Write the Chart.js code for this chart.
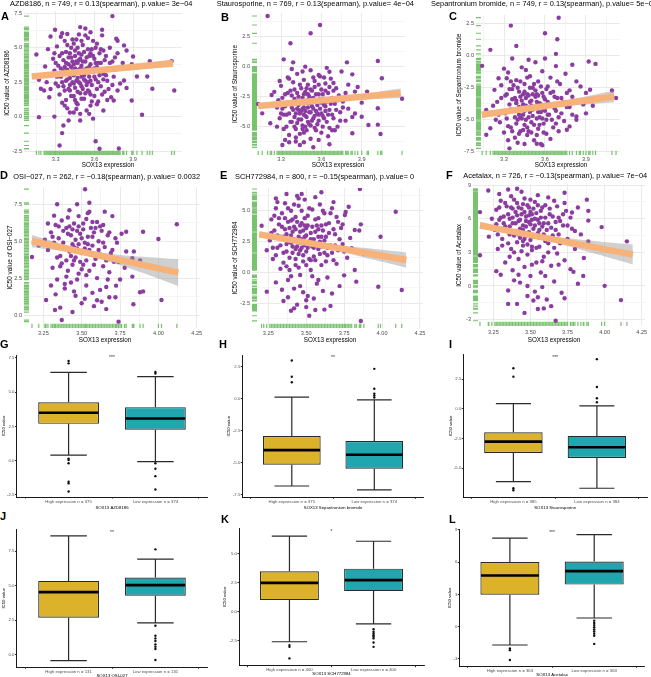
<!DOCTYPE html>
<html>
<head>
<meta charset="utf-8">
<script src="https://cdn.jsdelivr.net/npm/chart.js@4.4.1/dist/chart.umd.min.js"></script>
<style>
  html, body { margin: 0; padding: 0; background: #fff; overflow: hidden; }
  #fig { position: relative; width: 651px; height: 677px; }
  .p { position: absolute; }
  .p canvas { display: block; }
  .tag { position: absolute; z-index: 5; font: bold 11px "Liberation Sans", Arial, sans-serif; line-height: 11px; color: #000; }
</style>
</head>
<body>
<div id="fig">
  <div class="tag" style="left:1px;top:11px">A</div>
  <div class="tag" style="left:221px;top:12px">B</div>
  <div class="tag" style="left:449px;top:11px">C</div>
  <div class="tag" style="left:0px;top:170px">D</div>
  <div class="tag" style="left:220px;top:170px">E</div>
  <div class="tag" style="left:446px;top:170px">F</div>
  <div class="tag" style="left:0px;top:339px">G</div>
  <div class="tag" style="left:219px;top:339px">H</div>
  <div class="tag" style="left:449px;top:339px">I</div>
  <div class="tag" style="left:0px;top:511px">J</div>
  <div class="tag" style="left:221px;top:514px">K</div>
  <div class="tag" style="left:449px;top:514px">L</div>
</div>
<script>
// ---------- scatter data: [SOX13 expression, IC50] ----------
const azdPts = [
  [3.74,7.3],[3.49,6.5],[3.295,6.31],[3.15,4.51],[3.17,2.67],[3.17,-0.04],[3.29,0.0],[3.36,-0.65],[3.35,-1.2],[3.33,-2.1],
  [3.61,-1.79],[3.64,-2.34],[3.79,-2.32],[3.97,0.13],[4.22,1.9],[4.05,2.02],[4.03,4.03],[4.2,4.03],[3.9,4.37],[3.89,3.8],
  [3.93,2.91],[4.01,2.91],[3.83,5.17],[3.77,5.65],[3.21,1.9],[3.218,3.64],[3.26,5.82],[3.35,6.06],[3.57,6.13],[3.66,6.31],
  [3.48,5.97],[3.78,5.51],[3.85,4.8],[3.83,2.62],[3.85,2.08],[3.78,1.9],[3.89,1.17],[3.75,1.17],[3.67,0.44],[3.54,0.44],
  [3.49,0.2],[3.41,0.3],[3.40,-0.28],[3.49,-0.28],[3.59,-0.15],[3.46,0.56],[3.37,0.8],[3.25,1.41],[3.185,2.02],[3.23,2.5],
  [3.29,3.33],[3.27,3.1],[3.28,4.2],[3.3,2.4],[3.31,5.1],[3.32,3.7],[3.33,1.6],[3.34,2.9],[3.35,4.6],[3.36,3.3],
  [3.36,2.2],[3.37,5.5],[3.38,3.9],[3.38,1.2],[3.39,2.7],[3.4,4.3],[3.4,3.1],[3.41,1.9],[3.42,5.0],[3.42,3.6],
  [3.43,2.5],[3.43,4.0],[3.44,1.5],[3.44,3.0],[3.45,4.8],[3.45,2.1],[3.46,3.4],[3.46,5.6],[3.47,2.8],[3.47,0.9],
  [3.48,4.1],[3.48,3.2],[3.49,1.7],[3.49,2.4],[3.5,4.5],[3.5,3.7],[3.51,5.2],[3.51,2.0],[3.52,3.0],[3.52,1.3],
  [3.53,4.0],[3.53,2.6],[3.54,3.5],[3.55,5.7],[3.55,1.9],[3.56,4.4],[3.56,2.9],[3.57,3.8],[3.57,0.8],[3.58,2.3],
  [3.58,4.9],[3.59,3.3],[3.6,1.5],[3.6,4.2],[3.61,2.7],[3.62,5.3],[3.62,3.6],[3.63,1.1],[3.64,4.6],[3.65,2.2],
  [3.65,3.9],[3.66,5.9],[3.67,3.1],[3.68,1.8],[3.69,4.4],[3.7,2.6],[3.71,3.5],[3.72,5.0],[3.73,1.4],[3.74,4.0],
  [3.75,2.9],[3.76,3.4],[3.78,4.6],[3.8,2.4],[3.82,3.9],[3.3,3.9],[3.34,5.8],[3.39,0.6],[3.41,2.3],[3.44,5.3],
  [3.46,1.0],[3.5,2.9],[3.53,5.9],[3.57,1.6],[3.59,5.5],[3.63,2.5],[3.67,4.8],[3.7,1.2],[3.35,1.0],[3.26,2.0],
  [3.24,4.9],[3.43,3.3],[3.47,3.9],[3.51,3.4],[3.55,2.5],[3.61,3.9],
  [3.31,2.9],[3.33,4.4],[3.34,3.5],[3.35,2.5],[3.36,4.1],[3.37,1.9],[3.37,3.6],[3.38,4.7],[3.38,2.6],[3.39,3.4],
  [3.39,5.2],[3.4,2.0],[3.4,3.8],[3.41,4.6],[3.41,2.8],[3.42,1.5],[3.42,4.3],[3.43,3.2],[3.43,5.6],[3.44,2.4],
  [3.44,3.8],[3.45,1.2],[3.45,3.5],[3.45,4.4],[3.46,2.6],[3.46,4.0],[3.47,3.3],[3.47,5.0],[3.47,1.8],[3.48,2.5],
  [3.48,4.6],[3.49,3.5],[3.49,4.2],[3.5,2.2],[3.5,5.5],[3.5,1.3],[3.51,3.1],[3.51,4.0],[3.52,2.7],[3.52,4.7],
  [3.53,3.4],[3.53,1.7],[3.54,2.3],[3.54,4.3],[3.55,3.2],[3.55,4.9],[3.56,1.8],[3.56,3.6],[3.57,2.6],[3.57,4.6],
  [3.58,3.4],[3.58,1.1],[3.59,4.4],[3.6,2.9],[3.6,3.5],[3.61,5.0],[3.62,2.0],[3.63,3.9],[3.64,3.0],[3.65,4.9],
  [3.66,1.6],[3.67,2.7],[3.68,4.1],[3.69,3.0],[3.71,2.0],[3.72,3.9],[3.74,2.3],[3.76,4.3],[3.39,6.0],[3.53,6.4],
  [3.44,0.3],[3.56,0.2],[3.62,0.9],[3.32,2.2],[3.29,4.6]
];
const stauPts = [
  [3.2,4.22],[3.59,3.47],[3.52,2.78],[3.37,1.95],[3.32,0.61],[4.02,0.47],[4.05,-0.97],[4.2,-2.67],[4.02,-3.47],[3.95,-4.86],
  [4.02,-4.83],[4.04,-5.61],[3.31,-6.53],[3.44,-6.53],[3.41,-6.24],[3.54,-6.72],[3.66,-6.47],[3.22,-4.72],[3.16,-3.89],[3.13,-3.11],
  [3.23,-2.36],[3.83,-5.55],[3.9,-4.17],[3.94,-2.08],[3.85,-2.08],[3.8,-1.5],[3.66,-0.42],[3.69,-1.36],[3.59,-0.81],[3.39,0.36],
  [3.48,0.0],[3.79,0.36],[3.83,-0.64],
  [3.28,-2.8],[3.29,-4.3],[3.3,-1.6],[3.31,-3.5],[3.32,-5.2],[3.33,-2.3],[3.34,-4.0],[3.35,-0.9],[3.35,-3.0],[3.36,-5.7],
  [3.37,-2.0],[3.37,-4.6],[3.38,-3.4],[3.39,-1.3],[3.4,-2.7],[3.4,-5.0],[3.41,-3.9],[3.42,-0.6],[3.42,-2.2],[3.43,-4.4],
  [3.43,-3.2],[3.44,-5.6],[3.45,-1.8],[3.45,-3.7],[3.46,-2.6],[3.46,-4.9],[3.47,-1.1],[3.47,-3.4],[3.48,-4.1],[3.48,-2.1],
  [3.49,-5.3],[3.49,-3.0],[3.5,-1.5],[3.5,-4.6],[3.51,-2.5],[3.51,-3.8],[3.52,-6.0],[3.52,-0.3],[3.53,-3.3],[3.53,-2.0],
  [3.54,-4.3],[3.55,-5.1],[3.55,-1.2],[3.56,-2.9],[3.56,-3.7],[3.57,-4.8],[3.58,-2.3],[3.58,-0.7],[3.59,-3.5],[3.6,-5.5],
  [3.6,-1.9],[3.61,-4.1],[3.62,-2.7],[3.62,-3.2],[3.63,-1.4],[3.64,-4.6],[3.65,-2.2],[3.65,-5.8],[3.66,-3.6],[3.67,-1.0],
  [3.68,-2.6],[3.69,-4.3],[3.7,-3.1],[3.71,-1.8],[3.72,-5.0],[3.73,-2.4],[3.74,-3.8],[3.75,-0.4],[3.76,-2.9],[3.78,-4.5],
  [3.8,-3.5],[3.82,-2.6],[3.85,-3.9],[3.87,-1.7],[3.9,-3.0],[3.33,-6.1],[3.38,-0.2],[3.41,-5.9],[3.44,-2.9],[3.47,-5.5],
  [3.5,-2.8],[3.54,-0.9],[3.57,-3.9],[3.6,-3.0],[3.64,-0.1],[3.68,-5.3],[3.3,-3.9],[3.25,-2.1],[3.27,-5.0],[3.36,-1.0],
  [3.52,-4.9],[3.46,-0.4],[3.43,-3.6],[3.48,-3.7],[3.53,-2.7],[3.58,-4.0],[3.63,-3.3],
  [3.31,-2.6],[3.32,-4.0],[3.33,-3.3],[3.34,-5.0],[3.35,-2.2],[3.36,-3.9],[3.37,-3.1],[3.38,-4.6],[3.38,-2.4],[3.39,-3.6],
  [3.4,-1.9],[3.4,-4.2],[3.41,-2.9],[3.41,-5.2],[3.42,-3.5],[3.42,-4.7],[3.43,-2.5],[3.44,-3.9],[3.44,-1.5],[3.45,-4.4],
  [3.45,-2.9],[3.46,-3.5],[3.46,-5.2],[3.47,-2.3],[3.47,-4.0],[3.48,-3.0],[3.48,-5.0],[3.49,-1.8],[3.49,-4.2],[3.5,-3.4],
  [3.5,-2.3],[3.51,-4.8],[3.51,-3.0],[3.52,-1.9],[3.52,-3.8],[3.53,-4.5],[3.54,-2.6],[3.54,-3.5],[3.55,-4.1],[3.55,-1.7],
  [3.56,-5.3],[3.56,-2.3],[3.57,-3.2],[3.58,-4.5],[3.58,-1.5],[3.59,-2.7],[3.6,-3.9],[3.61,-2.3],[3.61,-5.0],[3.62,-4.3],
  [3.63,-2.0],[3.63,-3.7],[3.64,-2.9],[3.65,-4.0],[3.66,-1.7],[3.66,-5.1],[3.67,-3.1],[3.68,-4.0],[3.69,-2.0],[3.7,-5.3],
  [3.71,-3.6],[3.72,-2.8],[3.74,-4.5],[3.76,-3.4],[3.78,-2.2],[3.36,-6.3],[3.47,-6.3],[3.58,-6.1],[3.29,-1.2],[3.27,-3.4],
  [3.83,-4.2],[3.62,-0.9]
];
const sepPts = [
  [3.70,2.99],[3.35,2.37],[3.6,1.77],[3.69,1.3],[3.2,0.47],[3.39,0.78],[3.14,-0.78],[3.68,0.16],[3.92,-0.44],[3.97,-0.63],
  [3.8,-0.7],[4.12,-3.3],[4.09,-2.71],[3.95,-3.91],[3.83,-4.74],[3.78,-5.52],[3.76,-5.78],[3.54,-6.88],[3.34,-7.24],[3.17,-6.17],
  [3.2,-5.66],[3.17,-4.24],[3.23,-2.66],[3.26,-1.75],[3.32,-1.75],[3.83,-2.0],[3.9,-2.9],[3.93,-2.65],
  [3.25,-3.6],[3.27,-5.2],[3.28,-2.3],[3.29,-4.4],[3.3,-6.0],[3.31,-3.1],[3.32,-4.9],[3.33,-1.3],[3.34,-3.8],[3.35,-5.6],
  [3.36,-2.6],[3.37,-4.3],[3.38,-6.4],[3.38,-3.3],[3.39,-1.9],[3.4,-5.0],[3.41,-4.0],[3.41,-2.8],[3.42,-5.9],[3.43,-3.5],
  [3.43,-0.9],[3.44,-4.6],[3.45,-2.2],[3.45,-5.4],[3.46,-3.9],[3.47,-3.0],[3.47,-6.2],[3.48,-4.8],[3.49,-1.6],[3.49,-3.6],
  [3.5,-5.2],[3.51,-2.5],[3.51,-4.2],[3.52,-6.6],[3.53,-3.2],[3.53,-0.5],[3.54,-4.9],[3.55,-2.0],[3.55,-5.7],[3.56,-3.7],
  [3.57,-4.4],[3.58,-1.2],[3.58,-2.9],[3.59,-5.3],[3.6,-3.4],[3.61,-6.1],[3.62,-2.4],[3.62,-4.6],[3.63,-3.9],[3.64,-1.7],
  [3.65,-5.0],[3.66,-2.8],[3.67,-4.1],[3.68,-0.8],[3.69,-3.3],[3.7,-5.9],[3.71,-2.2],[3.72,-4.5],[3.73,-3.6],[3.75,-1.4],
  [3.76,-2.9],[3.78,-4.0],[3.8,-3.2],[3.83,-5.0],[3.86,-2.4],[3.88,-3.8],[3.3,-1.0],[3.36,-0.2],[3.4,-6.8],[3.46,-1.1],
  [3.52,-2.2],[3.57,-6.9],[3.6,-0.2],[3.64,-6.5],[3.68,-5.3],[3.44,-3.0],[3.5,-3.9],[3.56,-4.8],[3.26,-4.6],[3.22,-3.9],
  [3.35,-2.0],[3.48,-0.3],[3.42,-4.8],[3.47,-5.6],[3.54,-3.0],[3.59,-4.2],[3.39,-3.5],
  [3.31,-4.5],[3.32,-3.0],[3.33,-5.5],[3.34,-2.6],[3.35,-4.2],[3.36,-3.4],[3.36,-5.9],[3.37,-2.3],[3.38,-4.8],[3.39,-3.7],
  [3.39,-5.3],[3.4,-2.5],[3.41,-4.6],[3.41,-6.1],[3.42,-3.2],[3.42,-2.0],[3.43,-4.9],[3.44,-3.8],[3.44,-5.8],[3.45,-2.8],
  [3.45,-4.3],[3.46,-3.3],[3.46,-5.0],[3.47,-4.0],[3.47,-1.7],[3.48,-3.1],[3.48,-5.9],[3.49,-4.4],[3.49,-2.5],[3.5,-3.5],
  [3.5,-6.0],[3.51,-4.7],[3.51,-3.0],[3.52,-5.4],[3.52,-4.0],[3.53,-2.7],[3.54,-3.6],[3.54,-6.2],[3.55,-4.4],[3.55,-3.1],
  [3.56,-5.4],[3.57,-2.4],[3.57,-3.8],[3.58,-4.9],[3.59,-3.2],[3.59,-6.0],[3.6,-4.3],[3.61,-2.6],[3.61,-5.0],[3.62,-3.6],
  [3.63,-4.6],[3.64,-2.9],[3.65,-3.9],[3.66,-5.6],[3.67,-3.2],[3.68,-4.3],[3.69,-2.0],[3.7,-4.8],[3.72,-3.3],[3.74,-5.1],
  [3.76,-4.0],[3.78,-2.7],[3.8,-4.6],[3.33,-6.6],[3.45,-6.9],[3.58,-7.0],[3.28,-3.3],[3.24,-5.0],[3.85,-3.5],[3.9,-4.5]
];
const osiPts = [
  [3.522,8.52],[3.34,7.5],[3.47,7.5],[3.55,7.0],[3.65,7.0],[3.32,6.73],[4.12,6.15],[3.176,3.93],[3.268,1.02],[3.326,0.34],
  [3.37,-0.34],[3.74,-0.45],[4.02,1.02],[3.88,1.54],[3.9,1.6],[3.83,2.6],[3.724,1.99],[3.79,5.64],[3.9,5.64],[4.0,5.15],
  [3.84,4.3],[3.79,4.3],[3.83,3.85],[3.88,3.7],[3.837,0.73],[3.68,1.2],
  [3.28,4.4],[3.3,5.6],[3.31,3.2],[3.32,4.9],[3.33,6.1],[3.34,2.4],[3.35,5.2],[3.36,4.0],[3.37,6.4],[3.37,3.5],
  [3.38,5.7],[3.39,1.8],[3.39,4.6],[3.4,5.9],[3.41,3.0],[3.41,6.6],[3.42,4.3],[3.43,5.4],[3.43,2.2],[3.44,4.8],
  [3.45,6.2],[3.45,3.7],[3.46,5.1],[3.46,1.3],[3.47,4.5],[3.48,6.0],[3.48,2.8],[3.49,5.5],[3.5,4.2],[3.5,0.8],
  [3.51,5.8],[3.51,3.4],[3.52,4.9],[3.53,6.5],[3.53,2.0],[3.54,5.3],[3.55,4.4],[3.55,3.0],[3.56,5.9],[3.57,1.5],
  [3.57,4.7],[3.58,5.6],[3.59,3.8],[3.6,6.3],[3.6,2.5],[3.61,5.0],[3.62,4.1],[3.63,0.9],[3.63,5.7],[3.64,3.3],
  [3.65,4.6],[3.66,1.9],[3.67,5.4],[3.68,2.9],[3.69,4.2],[3.7,6.7],[3.71,3.6],[3.72,1.2],[3.73,4.9],[3.75,2.4],
  [3.76,5.5],[3.78,3.2],[3.33,1.4],[3.36,0.5],[3.44,0.2],[3.52,1.1],[3.58,0.6],[3.62,1.7],[3.66,0.4],[3.47,2.4],
  [3.4,2.6],[3.55,7.6],[3.42,7.1],[3.3,2.0],[3.26,5.1],[3.22,4.7],[3.28,6.2],[3.5,3.1],[3.44,3.4],[3.59,4.0],
  [3.64,6.1],[3.54,6.9],
  [3.31,5.3],[3.33,4.6],[3.35,6.0],[3.36,3.3],[3.38,4.9],[3.4,3.7],[3.41,5.5],[3.42,6.0],[3.43,4.0],[3.44,5.8],
  [3.45,4.6],[3.46,3.9],[3.47,5.7],[3.48,4.8],[3.49,3.6],[3.5,5.2],[3.51,6.2],[3.52,4.5],[3.53,3.7],[3.54,4.8],
  [3.56,4.1],[3.57,5.3],[3.58,3.4],[3.59,5.9],[3.61,4.4],[3.62,6.0],[3.64,4.9],[3.66,3.7],[3.68,5.6],[3.7,4.4],
  [3.72,5.2],[3.74,3.6],[3.39,2.1],[3.45,1.6],[3.53,2.7],[3.6,1.0],[3.67,2.4],[3.34,3.9],[3.48,6.7],[3.57,6.3]
];
const schPts = [
  [3.854,6.76],[3.6,6.49],[4.09,4.92],[3.99,2.9],[3.206,3.79],[3.24,-1.55],[3.975,-1.15],[3.83,-0.74],[4.13,-1.42],[3.86,-3.92],
  [3.56,-3.03],[3.42,-2.9],[3.5,-2.24],[3.67,-1.7],[3.75,-0.23],[3.8,1.96],[3.82,3.44],[3.755,4.65],[3.86,3.9],[3.78,5.32],
  [3.68,5.7],[3.3,6.0],[3.37,6.35],[3.47,6.35],
  [3.26,2.6],[3.27,4.3],[3.28,1.1],[3.29,3.4],[3.3,5.2],[3.31,2.0],[3.32,3.9],[3.33,0.3],[3.33,2.9],[3.34,4.8],
  [3.35,1.6],[3.36,3.5],[3.36,5.6],[3.37,2.3],[3.38,-0.6],[3.38,4.1],[3.39,1.2],[3.4,3.0],[3.4,5.0],[3.41,2.1],
  [3.42,-1.3],[3.42,3.7],[3.43,0.6],[3.43,4.5],[3.44,2.6],[3.45,1.5],[3.45,5.4],[3.46,3.3],[3.46,-0.2],[3.47,2.0],
  [3.47,4.0],[3.48,0.9],[3.49,2.9],[3.49,5.9],[3.5,1.7],[3.5,3.6],[3.51,-1.9],[3.51,4.6],[3.52,2.4],[3.53,0.2],
  [3.53,3.2],[3.54,5.1],[3.55,1.3],[3.55,2.7],[3.56,4.3],[3.57,-0.9],[3.57,3.8],[3.58,1.9],[3.59,5.5],[3.59,2.5],
  [3.6,0.6],[3.61,3.4],[3.62,4.8],[3.62,1.6],[3.63,2.9],[3.64,-0.4],[3.65,4.0],[3.66,2.2],[3.67,5.2],[3.68,1.0],
  [3.69,3.1],[3.7,4.5],[3.71,1.8],[3.72,-1.1],[3.73,3.6],[3.74,2.3],[3.76,4.9],[3.77,1.2],[3.79,2.8],[3.82,0.2],
  [3.85,3.4],[3.88,1.5],[3.3,-0.8],[3.35,-2.3],[3.44,-2.6],[3.48,-1.6],[3.55,-2.1],[3.61,-1.5],[3.66,-2.7],[3.4,-3.1],
  [3.52,-3.5],[3.44,6.2],[3.56,6.1],[3.24,1.8],[3.22,3.0],[3.41,4.3],[3.53,1.0],[3.46,2.4],[3.58,3.5],[3.37,0.5],
  [3.43,1.9],[3.49,3.8],[3.54,2.1],[3.6,2.9],[3.64,1.4],[3.39,2.5],
  [3.27,3.2],[3.28,2.0],[3.29,4.6],[3.3,1.4],[3.31,3.0],[3.32,4.4],[3.33,2.2],[3.34,3.7],[3.35,0.8],[3.35,2.9],
  [3.36,4.4],[3.37,1.7],[3.37,3.1],[3.38,2.5],[3.38,5.2],[3.39,3.6],[3.39,0.2],[3.4,2.4],[3.4,4.2],[3.41,1.6],
  [3.41,3.3],[3.42,2.7],[3.42,5.5],[3.43,1.1],[3.43,3.5],[3.44,2.1],[3.44,4.1],[3.45,0.4],[3.45,2.9],[3.46,3.8],
  [3.46,1.8],[3.47,2.7],[3.47,5.0],[3.48,3.4],[3.48,1.4],[3.49,2.2],[3.49,4.4],[3.5,0.6],[3.5,3.0],[3.51,2.0],
  [3.51,3.8],[3.52,1.1],[3.52,5.2],[3.53,2.7],[3.54,3.7],[3.54,-0.3],[3.55,2.0],[3.56,3.3],[3.56,1.0],[3.57,2.3],
  [3.58,4.4],[3.58,2.9],[3.59,1.5],[3.6,3.8],[3.6,2.1],[3.61,5.0],[3.62,2.6],[3.63,0.9],[3.63,3.9],[3.64,2.0],
  [3.65,3.2],[3.66,4.8],[3.67,1.6],[3.68,3.5],[3.69,2.2],[3.7,0.7],[3.71,4.1],[3.72,2.7],[3.74,3.9],[3.75,1.7],
  [3.34,-1.4],[3.46,-1.1],[3.58,-0.6],[3.5,-2.8],[3.62,-3.0],[3.38,-2.0],[3.31,5.7],[3.45,6.0],[3.4,-0.3]
];
const acePts = [
  [3.216,8.52],[3.35,8.6],[3.41,8.67],[3.73,8.31],[3.16,6.59],[3.16,2.74],[3.27,1.32],[3.98,5.25],[4.15,3.98],[3.89,3.97],
  [3.856,0.9],[3.79,1.26],[4.0,0.01],[4.11,-1.26],[3.67,-3.1],[3.55,-2.06],[3.59,-2.0],[3.35,-1.6],[3.73,-1.1],[3.89,5.83],
  [3.89,6.7],[3.82,7.0],[3.88,7.7],[3.73,7.4],[3.78,6.55],
  [3.26,5.0],[3.27,6.8],[3.28,3.3],[3.29,5.9],[3.3,7.6],[3.31,4.2],[3.32,6.2],[3.33,2.1],[3.33,5.3],[3.34,7.1],
  [3.35,3.8],[3.36,6.0],[3.36,4.6],[3.37,8.0],[3.38,1.4],[3.38,5.6],[3.39,3.0],[3.4,6.6],[3.4,4.9],[3.41,7.4],
  [3.42,2.4],[3.42,5.8],[3.43,4.3],[3.43,0.3],[3.44,6.9],[3.45,3.6],[3.45,5.4],[3.46,7.8],[3.46,1.7],[3.47,6.2],
  [3.47,4.5],[3.48,2.8],[3.49,5.7],[3.49,7.0],[3.5,0.9],[3.5,4.1],[3.51,6.4],[3.51,3.2],[3.52,5.1],[3.53,-0.5],
  [3.53,7.5],[3.54,2.1],[3.55,5.9],[3.55,4.7],[3.56,3.5],[3.57,6.7],[3.57,1.2],[3.58,5.3],[3.59,2.6],[3.6,7.2],
  [3.6,4.0],[3.61,-1.2],[3.62,5.6],[3.62,3.0],[3.63,6.4],[3.64,1.8],[3.65,4.5],[3.66,0.4],[3.66,7.6],[3.67,5.0],
  [3.68,2.9],[3.69,6.1],[3.7,3.8],[3.71,-0.6],[3.72,5.4],[3.73,2.3],[3.74,6.7],[3.75,4.2],[3.77,1.5],[3.78,5.1],
  [3.8,3.3],[3.82,0.2],[3.84,4.6],[3.86,2.5],[3.3,1.0],[3.35,-0.4],[3.41,-1.6],[3.46,-2.4],[3.52,-1.3],[3.58,-0.1],
  [3.64,-1.8],[3.39,0.5],[3.48,-0.9],[3.29,8.2],[3.44,8.4],[3.55,8.1],[3.24,6.0],[3.22,4.4],[3.47,5.3],[3.53,6.0],
  [3.59,5.6],[3.38,6.9],[3.62,7.9],[3.43,5.1],[3.5,6.6],[3.56,5.0],[3.45,4.0],
  [3.27,5.5],[3.28,4.6],[3.29,7.0],[3.3,6.1],[3.31,3.6],[3.32,5.6],[3.33,7.4],[3.34,4.9],[3.35,6.4],[3.36,5.3],
  [3.37,3.3],[3.37,7.0],[3.38,6.1],[3.39,4.5],[3.39,7.7],[3.4,5.6],[3.41,3.9],[3.41,6.3],[3.42,7.0],[3.42,4.6],
  [3.43,5.9],[3.44,6.4],[3.44,3.1],[3.45,7.3],[3.45,5.0],[3.46,6.6],[3.46,4.2],[3.47,5.8],[3.48,7.2],[3.48,3.7],
  [3.49,6.3],[3.49,4.8],[3.5,5.5],[3.5,7.7],[3.51,3.5],[3.51,5.9],[3.52,6.9],[3.52,4.4],[3.53,5.4],[3.54,6.5],
  [3.54,3.4],[3.55,7.2],[3.56,5.6],[3.56,4.3],[3.57,6.1],[3.58,2.2],[3.58,7.0],[3.59,4.6],[3.6,6.1],[3.61,5.0],
  [3.62,3.8],[3.63,6.9],[3.64,5.2],[3.65,6.2],[3.66,3.4],[3.67,5.7],[3.68,7.1],[3.69,4.6],[3.7,5.8],[3.72,6.4],
  [3.73,4.0],[3.75,5.4],[3.77,6.1],[3.8,4.9],[3.42,1.0],[3.51,1.9],[3.6,0.9],[3.48,0.0],[3.36,2.6],[3.69,1.9],
  [3.55,-1.0]
];

// ---------- fitted lines and confidence bands ----------
const azdFitX = [3.114, 4.21],  azdFitY = [2.91, 3.88];
const azdBandX = [3.114, 3.4, 3.7, 4.0, 4.21];
const azdBandLo = [2.73, 3.06, 3.31, 3.49, 3.61], azdBandHi = [3.09, 3.26, 3.55, 3.89, 4.15];

const stauFitX = [3.13, 4.19],  stauFitY = [-3.28, -2.22];
const stauBandX = [3.13, 3.4, 3.7, 4.0, 4.19];
const stauBandLo = [-3.5, -3.13, -2.86, -2.69, -2.61], stauBandHi = [-3.06, -2.89, -2.56, -2.13, -1.83];

const sepFitX = [3.137, 4.107], sepFitY = [-4.61, -3.18];
const sepBandX = [3.137, 3.4, 3.7, 3.95, 4.107];
const sepBandLo = [-4.86, -4.35, -3.98, -3.76, -3.63], sepBandHi = [-4.36, -4.09, -3.58, -3.06, -2.73];

const osiFitX = [3.174, 4.13],  osiFitY = [5.01, 2.87];
const osiBandX = [3.174, 3.3, 3.45, 3.6, 3.75, 3.9, 4.05, 4.13];
const osiBandLo = [4.59, 4.43, 4.19, 3.86, 3.37, 2.84, 2.27, 1.95];
const osiBandHi = [5.43, 5.03, 4.59, 4.26, 4.07, 3.94, 3.83, 3.79];

const schFitX = [3.19, 4.16],   schFitY = [3.09, 1.01];
const schBandX = [3.19, 3.35, 3.5, 3.65, 3.8, 3.95, 4.16];
const schBandLo = [2.84, 2.6, 2.31, 1.92, 1.48, 1.01, 0.39];
const schBandHi = [3.34, 2.9, 2.55, 2.28, 2.08, 1.91, 1.63];

const aceFitX = [3.16, 4.19],   aceFitY = [5.4, 2.8];
const aceBandX = [3.16, 3.3, 3.45, 3.6, 3.75, 3.9, 4.05, 4.19];
const aceBandLo = [5.08, 4.85, 4.52, 4.09, 3.56, 3.01, 2.45, 1.91];
const aceBandHi = [5.72, 5.25, 4.82, 4.49, 4.26, 4.05, 3.85, 3.69];

// ---------- tick values / labels ----------
const xTicksRow1 = [3.3, 3.6, 3.9], xLabelsRow1 = ['3.3', '3.6', '3.9'], xMinorRow1 = [3.15, 3.45, 3.75, 4.05];
const xTicksRow2 = [3.25, 3.5, 3.75, 4, 4.25], xLabelsRow2 = ['3.25', '3.50', '3.75', '4.00', '4.25'];
const xMinorRow2 = [3.375, 3.625, 3.875, 4.125];
const yTicks25 = [-7.5, -5, -2.5, 0, 2.5, 5, 7.5], yLabels25 = ['-7.5', '-5.0', '-2.5', '0.0', '2.5', '5.0', '7.5'];
const yTicks3 = [-3, 0, 3, 6, 9], yLabels3 = ['-3', '0', '3', '6', '9'], yMinor3 = [-1.5, 1.5, 4.5, 7.5];

// ---------- box plot data: [lower whisker, Q1, median, Q3, upper whisker] ----------
const azdHigh = [0.40, 2.68, 3.49, 4.26, 6.43],   azdLow = [-0.07, 2.26, 3.07, 3.90, 6.13];
const azdHighOut = [7.26, 7.09, 0.15, 0.05, -0.19, -1.54, -1.66, -2.25], azdLowOut = [6.47, 6.35, -0.19, -0.59, -1.13, -2.1];
const sepHigh = [-6.8, -5.14, -4.0, -2.91, 0.12], sepLow = [-7.1, -5.45, -4.36, -3.3, -0.08];
const sepHighOut = [2.98, 1.71, 1.29], sepLowOut = [2.33, 0.78, 0.4, 0.25, 0.1];
const stauHigh = [-6.12, -3.71, -2.75, -1.96, 0.45], stauLow = [-6.68, -4.13, -3.23, -2.27, 0.25];
const stauHighOut = [3.43, 2.72, -6.68, -6.85], stauLowOut = [4.19, 1.85, 0.9, 0.56];
const osiHigh = [-0.43, 2.67, 4.53, 5.34, 8.6], osiLow = [2.3, 4.26, 5.03, 5.58, 6.92];
const osiHighOut = [], osiLowOut = [7.62, 2.1, 1.37, 1.18, 0.99, 0.75, 0.58, 0.41, -0.38];
const schHigh = [-2.59, 1.01, 2.5, 3.5, 6.54], schLow = [-1.04, 1.79, 2.74, 3.73, 6.1];
const schHighOut = [-2.88, -3.03, -4.03], schLowOut = [-1.5, -1.73, -1.87, -2.02, -2.16, -2.3, -2.65, -3.03];
const aceHigh = [-1.7, 2.97, 4.76, 6.0, 8.23], aceLow = [0.81, 3.91, 5.16, 6.05, 8.56];
const aceHighOut = [-2.02, -2.18, -3.1], aceLowOut = [0.56, 0.35, 0.15, -0.05, -0.25, -0.45, -0.65, -0.85, -1.6];

const groupsG = ['High expression n = 375', 'Low expression n = 374'];
const groupsI = ['High expression n = 385', 'Low expression n = 384'];
const groupsJ = ['High expression n = 131', 'Low expression n = 131'];
const groupsK = ['High expression n = 400', 'Low expression n = 400'];
const groupsL = ['High expression n = 363', 'Low expression n = 363'];

// ---------- drawing ----------
const FONT = '"Liberation Sans", Arial, Helvetica, sans-serif';
Chart.defaults.font.family = FONT;
const PURPLE = '#8B3D9F', GREEN = '#78C36D', ORANGE = '#F7B27A', BAND = 'rgba(150,150,150,0.45)';
const GOLD = '#DCB22A', TEAL = '#1FA6AF', GREY = '#4D4D4D';

function place(box) {
  const d = document.createElement('div');
  d.className = 'p';
  d.style.cssText = `left:${box[0]}px;top:${box[1]}px;width:${box[2]}px;height:${box[3]}px`;
  const c = document.createElement('canvas');
  d.appendChild(c);
  document.getElementById('fig').appendChild(d);
  return c;
}

function tickSet(major, labels, minor) {
  const all = major.concat(minor).sort((a, b) => a - b);
  return {
    build: s => { s.ticks = all.map(v => ({ value: v })); },
    label: v => { const i = major.indexOf(v); return i < 0 ? '' : labels[i]; },
    color: c => (c.tick && major.includes(c.tick.value)) ? '#E4E4E4' : '#F2F2F2'
  };
}

const rug = {
  id: 'rug',
  beforeDatasetsDraw(chart) {
    const { ctx, chartArea: a, scales: { x, y } } = chart;
    ctx.save();
    ctx.strokeStyle = GREEN;
    ctx.lineWidth = 1.2;
    ctx.beginPath();
    chart.data.datasets[3].data.forEach(p => {
      const px = x.getPixelForValue(p.x), py = y.getPixelForValue(p.y);
      ctx.moveTo(a.left, py); ctx.lineTo(a.left + 5, py);
      ctx.moveTo(px, a.bottom); ctx.lineTo(px, a.bottom - 4.3);
    });
    ctx.stroke();
    ctx.restore();
  }
};

function scatterPanel(c) {
  const [CL, CT, CW, CH] = c.box;
  const xs = tickSet(c.xMajor, c.xLabels, c.xMinor);
  const ys = tickSet(c.yMajor, c.yLabels, c.yMinor);
  const yW = c.plot.l - c.yTitleX + 3.8;
  const xH = CT + CH - c.plot.b;
  const head = {
    id: 'head',
    afterDraw(chart) {
      const ctx = chart.ctx;
      ctx.save();
      ctx.fillStyle = '#000';
      ctx.textBaseline = 'middle';
      ctx.font = `7.4px ${FONT}`;
      ctx.textAlign = 'left';
      ctx.fillText(c.title, c.titleX - CL, c.titleY - CT);
      ctx.font = `6.3px ${FONT}`;
      ctx.textAlign = 'center';
      ctx.fillText('SOX13 expression', c.xTitleX - CL, c.xTitleY - CT);
      ctx.restore();
    }
  };
  new Chart(place(c.box), {
    type: 'scatter',
    data: {
      datasets: [
        { type: 'line', data: c.fitX.map((x, i) => ({ x, y: c.fitY[i] })), borderColor: ORANGE,
          borderWidth: 6.5, pointRadius: 0, order: 0 },
        { type: 'line', data: c.bandX.map((x, i) => ({ x, y: c.bandHi[i] })), borderWidth: 0, pointRadius: 0,
          fill: '+1', backgroundColor: BAND, tension: 0.3, order: 1 },
        { type: 'line', data: c.bandX.map((x, i) => ({ x, y: c.bandLo[i] })), borderWidth: 0, pointRadius: 0,
          fill: false, tension: 0.3, order: 1 },
        { data: c.pts.map(p => ({ x: p[0], y: p[1] })), backgroundColor: PURPLE, pointRadius: 2.2,
          borderWidth: 0, order: 2 }
      ]
    },
    options: {
      responsive: true, maintainAspectRatio: false, animation: false,
      layout: { padding: { left: c.yTitleX - 3.8 - CL, top: c.plot.t - CT, right: CL + CW - c.plot.r, bottom: 0 } },
      plugins: { legend: { display: false }, tooltip: { enabled: false } },
      scales: {
        x: {
          type: 'linear', min: c.xMin, max: c.xMax,
          afterBuildTicks: xs.build,
          afterFit: s => { s.height = xH; s.paddingLeft = 0; s.paddingRight = 0; },
          ticks: { callback: xs.label, color: GREY, font: { size: 5.6 }, padding: c.xLabPad, autoSkip: false, maxRotation: 0 },
          grid: { color: xs.color, lineWidth: 0.8, drawTicks: false },
          border: { display: false }
        },
        y: {
          type: 'linear', min: c.yMin, max: c.yMax,
          afterBuildTicks: ys.build,
          afterFit: s => { s.width = yW; s.paddingTop = 0; s.paddingBottom = 0; },
          ticks: { callback: ys.label, color: GREY, font: { size: 5.6 }, padding: 2, autoSkip: false },
          grid: { color: ys.color, lineWidth: 0.8, drawTicks: false },
          border: { display: false },
          title: { display: true, text: c.yTitle, color: '#000', font: { size: 6.3 }, padding: 0 }
        }
      }
    },
    plugins: [rug, head]
  });
}

function boxPanel(c) {
  const [CL, CT, CW, CH] = c.box;
  const yW = c.plot.l - c.yTitleX + 2.6;
  const xH = CT + CH - c.plot.b;
  const stats = [c.high, c.low];
  const extras = {
    id: 'extras',
    afterDatasetsDraw(chart) {
      const { ctx, chartArea: a, scales: { x, y } } = chart;
      ctx.save();
      ctx.strokeStyle = '#2A2A2A';
      ctx.lineWidth = 1.2;
      stats.forEach((s, i) => {
        const cx = x.getPixelForValue(i + 1);
        const cap = x.getPixelForValue(i + 1.21) - cx;
        const half = x.getPixelForValue(i + 1.35) - cx;
        ctx.beginPath();
        ctx.moveTo(cx, y.getPixelForValue(s[3])); ctx.lineTo(cx, y.getPixelForValue(s[4]));
        ctx.moveTo(cx, y.getPixelForValue(s[1])); ctx.lineTo(cx, y.getPixelForValue(s[0]));
        ctx.moveTo(cx - cap, y.getPixelForValue(s[4])); ctx.lineTo(cx + cap, y.getPixelForValue(s[4]));
        ctx.moveTo(cx - cap, y.getPixelForValue(s[0])); ctx.lineTo(cx + cap, y.getPixelForValue(s[0]));
        ctx.stroke();
        ctx.save();
        ctx.strokeStyle = '#000';
        ctx.lineWidth = 2.6;
        ctx.beginPath();
        ctx.moveTo(cx - half + 0.6, y.getPixelForValue(s[2])); ctx.lineTo(cx + half - 0.6, y.getPixelForValue(s[2]));
        ctx.stroke();
        ctx.restore();
      });
      ctx.font = `5px ${FONT}`;
      ctx.fillStyle = '#333';
      ctx.textAlign = 'center';
      ctx.textBaseline = 'middle';
      ctx.fillText(c.sig, x.getPixelForValue(1.5), a.top + 3);
      ctx.restore();
    }
  };
  new Chart(place(c.box), {
    type: 'bar',
    data: {
      datasets: [
        { type: 'bar',
          data: [{ x: 1, y: [c.high[1], c.high[3]] }, { x: 2, y: [c.low[1], c.low[3]] }],
          backgroundColor: [GOLD, TEAL], borderColor: '#2A2A2A', borderWidth: 1.2, borderSkipped: false,
          categoryPercentage: 1, barPercentage: 0.7, order: 1 },
        { type: 'scatter',
          data: c.highOut.map(v => ({ x: 1, y: v })).concat(c.lowOut.map(v => ({ x: 2, y: v }))),
          backgroundColor: '#111', pointRadius: 1.2, borderWidth: 0, order: 0 }
      ]
    },
    options: {
      responsive: true, maintainAspectRatio: false, animation: false,
      layout: { padding: { left: c.yTitleX - 2.6 - CL, top: c.plot.t - CT, right: CL + CW - c.plot.r, bottom: 0 } },
      plugins: { legend: { display: false }, tooltip: { enabled: false } },
      scales: {
        x: {
          type: 'linear', min: 0.4, max: 2.6, offset: false,
          afterBuildTicks: s => { s.ticks = [{ value: 1 }, { value: 2 }]; },
          afterFit: s => { s.height = xH; s.paddingLeft = 0; s.paddingRight = 0; },
          ticks: { callback: v => c.groups[v - 1], color: GREY, font: { size: 4.3 }, padding: 0.5, autoSkip: false, maxRotation: 0 },
          grid: { display: true, drawOnChartArea: false, tickLength: 1.5, color: '#000', lineWidth: 0.8 },
          border: { display: true, color: '#000', width: 0.9 },
          title: { display: true, text: c.xTitle, color: '#000', font: { size: 4.3 }, padding: 0 }
        },
        y: {
          type: 'linear', min: c.yMin, max: c.yMax,
          afterBuildTicks: s => { s.ticks = c.yMajor.filter(v => v >= c.yMin && v <= c.yMax).map(v => ({ value: v })); },
          afterFit: s => { s.width = yW; s.paddingTop = 0; s.paddingBottom = 0; },
          ticks: { callback: v => c.yLabels[c.yMajor.indexOf(v)], color: GREY, font: { size: 4.3 }, padding: 0.5, autoSkip: false },
          grid: { display: true, drawOnChartArea: false, tickLength: 1.5, color: '#000', lineWidth: 0.8 },
          border: { display: true, color: '#000', width: 0.9 },
          title: { display: true, text: 'IC50 value', color: '#000', font: { size: 4.3 }, padding: 0 }
        }
      }
    },
    plugins: [extras]
  });
}

// ---------- scatter panels A-F ----------
scatterPanel({ box: [0, 0, 215, 170], plot: { l: 24, t: 11, r: 182, b: 155 }, yTitleX: 7, titleX: 10, titleY: 4.2, xLabPad: 1,
  xTitleX: 108, xTitleY: 165.7,
  title: 'AZD8186, n = 749, r = 0.13(spearman), p.value= 3e\u221204', yTitle: 'IC50 value of AZD8186',
  pts: azdPts, fitX: azdFitX, fitY: azdFitY, bandX: azdBandX, bandLo: azdBandLo, bandHi: azdBandHi,
  xMin: 3.054, xMax: 4.28, yMin: -2.79, yMax: 7.67,
  xMajor: xTicksRow1, xLabels: xLabelsRow1, xMinor: xMinorRow1,
  yMajor: [-2.5, 0, 2.5, 5, 7.5], yLabels: ['-2.5', '0.0', '2.5', '5.0', '7.5'], yMinor: [-1.25, 1.25, 3.75, 6.25] });

scatterPanel({ box: [214, 0, 221, 170], plot: { l: 252, t: 13, r: 405, b: 155 }, yTitleX: 235.7, titleX: 216.7, titleY: 4.2, xLabPad: 1,
  xTitleX: 338, xTitleY: 165.7,
  title: 'Staurosporine, n = 769, r = 0.13(spearman), p.value= 4e\u221204', yTitle: 'IC50 value of Staurosporine',
  pts: stauPts, fitX: stauFitX, fitY: stauFitY, bandX: stauBandX, bandLo: stauBandLo, bandHi: stauBandHi,
  xMin: 3.084, xMax: 4.222, yMin: -7.36, yMax: 4.47,
  xMajor: xTicksRow1, xLabels: xLabelsRow1, xMinor: xMinorRow1,
  yMajor: [-5, -2.5, 0, 2.5], yLabels: ['-5.0', '-2.5', '0.0', '2.5'], yMinor: [-6.25, -3.75, -1.25, 1.25, 3.75] });

scatterPanel({ box: [429, 0, 222, 170], plot: { l: 476, t: 15, r: 620, b: 155 }, yTitleX: 459.3, titleX: 431, titleY: 4.2, xLabPad: 1,
  xTitleX: 561, xTitleY: 165.7,
  title: 'Sepantronium bromide, n = 749, r = 0.13(spearman), p.value= 5e\u221204', yTitle: 'IC50 value of Sepantronium bromide',
  pts: sepPts, fitX: sepFitX, fitY: sepFitY, bandX: sepBandX, bandLo: sepBandLo, bandHi: sepBandHi,
  xMin: 3.095, xMax: 4.149, yMin: -7.76, yMax: 3.2,
  xMajor: xTicksRow1, xLabels: xLabelsRow1, xMinor: xMinorRow1,
  yMajor: [-7.5, -5, -2.5, 0, 2.5], yLabels: ['-7.5', '-5.0', '-2.5', '0.0', '2.5'], yMinor: [-6.25, -3.75, -1.25, 1.25] });

scatterPanel({ box: [0, 170, 215, 174], plot: { l: 24, t: 187, r: 200, b: 328 }, yTitleX: 10, titleX: 13.3, titleY: 176.7, xLabPad: 2,
  xTitleX: 105, xTitleY: 340,
  title: 'OSI\u2212027, n = 262, r = \u22120.18(spearman), p.value= 0.0032', yTitle: 'IC50 value of OSI\u2212027',
  pts: osiPts, fitX: osiFitX, fitY: osiFitY, bandX: osiBandX, bandLo: osiBandLo, bandHi: osiBandHi,
  xMin: 3.124, xMax: 4.271, yMin: -0.88, yMax: 8.67,
  xMajor: xTicksRow2, xLabels: xLabelsRow2, xMinor: xMinorRow2,
  yMajor: [0, 2.5, 5, 7.5], yLabels: ['0.0', '2.5', '5.0', '7.5'], yMinor: [1.25, 3.75, 6.25] });

scatterPanel({ box: [214, 170, 221, 174], plot: { l: 252, t: 188, r: 423, b: 328 }, yTitleX: 235, titleX: 235, titleY: 176.7, xLabPad: 2,
  xTitleX: 330, xTitleY: 340,
  title: 'SCH772984, n = 800, r = \u22120.15(spearman), p.value= 0', yTitle: 'IC50 value of SCH772984',
  pts: schPts, fitX: schFitX, fitY: schFitY, bandX: schBandX, bandLo: schBandLo, bandHi: schBandHi,
  xMin: 3.1425, xMax: 4.27, yMin: -4.49, yMax: 6.84,
  xMajor: xTicksRow2, xLabels: xLabelsRow2, xMinor: xMinorRow2,
  yMajor: [-2.5, 0, 2.5, 5], yLabels: ['-2.5', '0.0', '2.5', '5.0'], yMinor: [-3.75, -1.25, 1.25, 3.75, 6.25] });

scatterPanel({ box: [440, 170, 211, 174], plot: { l: 473, t: 184.5, r: 645, b: 326 }, yTitleX: 459, titleX: 463.3, titleY: 176, xLabPad: 3,
  xTitleX: 554, xTitleY: 340,
  title: 'Acetalax, n = 726, r = \u22120.13(spearman), p.value= 7e\u221204', yTitle: 'IC50 value of Acetalax',
  pts: acePts, fitX: aceFitX, fitY: aceFitY, bandX: aceBandX, bandLo: aceBandLo, bandHi: aceBandHi,
  xMin: 3.113, xMax: 4.272, yMin: -3.57, yMax: 9.05,
  xMajor: xTicksRow2, xLabels: xLabelsRow2, xMinor: xMinorRow2,
  yMajor: yTicks3, yLabels: yLabels3, yMinor: yMinor3 });

// ---------- box panels G-L ----------
boxPanel({ box: [0, 350, 212, 160], plot: { l: 16.5, t: 355, r: 207.5, b: 497 }, yTitleX: 4,
  high: azdHigh, low: azdLow, highOut: azdHighOut, lowOut: azdLowOut, groups: groupsG,
  xTitle: 'SOX13 AZD8186', sig: '***', yMin: -2.65, yMax: 7.7, yMajor: yTicks25, yLabels: yLabels25 });

boxPanel({ box: [214, 350, 214, 160], plot: { l: 242.3, t: 355, r: 423.8, b: 497.3 }, yTitleX: 229,
  high: sepHigh, low: sepLow, highOut: sepHighOut, lowOut: sepLowOut, groups: groupsG,
  xTitle: 'SOX13 Sepantronium bromide', sig: '**', yMin: -7.68, yMax: 3.41, yMajor: yTicks25, yLabels: yLabels25 });

boxPanel({ box: [440, 350, 211, 160], plot: { l: 463.3, t: 354.3, r: 649.6, b: 497.3 }, yTitleX: 450.7,
  high: stauHigh, low: stauLow, highOut: stauHighOut, lowOut: stauLowOut, groups: groupsI,
  xTitle: 'SOX13 Staurosporine', sig: '***', yMin: -7.44, yMax: 4.6, yMajor: yTicks25, yLabels: yLabels25 });

boxPanel({ box: [0, 524, 212, 154], plot: { l: 16.5, t: 529.3, r: 207.5, b: 667.3 }, yTitleX: 4,
  high: osiHigh, low: osiLow, highOut: osiHighOut, lowOut: osiLowOut, groups: groupsJ,
  xTitle: 'SOX13 OSI-027', sig: '**', yMin: -0.91, yMax: 9.07, yMajor: yTicks25, yLabels: yLabels25 });

boxPanel({ box: [214, 524, 214, 152], plot: { l: 239, t: 528.3, r: 426.7, b: 665.7 }, yTitleX: 225,
  high: schHigh, low: schLow, highOut: schHighOut, lowOut: schLowOut, groups: groupsK,
  xTitle: 'SOX13 SCH772984', sig: '*', yMin: -4.66, yMax: 7.22, yMajor: yTicks25, yLabels: yLabels25 });

boxPanel({ box: [440, 524, 211, 153], plot: { l: 459.3, t: 529.3, r: 644.8, b: 666.3 }, yTitleX: 450,
  high: aceHigh, low: aceLow, highOut: aceHighOut, lowOut: aceLowOut, groups: groupsL,
  xTitle: 'SOX13 Acetalax', sig: '***', yMin: -3.68, yMax: 9.05, yMajor: yTicks3, yLabels: yLabels3 });
</script>
</body>
</html>
